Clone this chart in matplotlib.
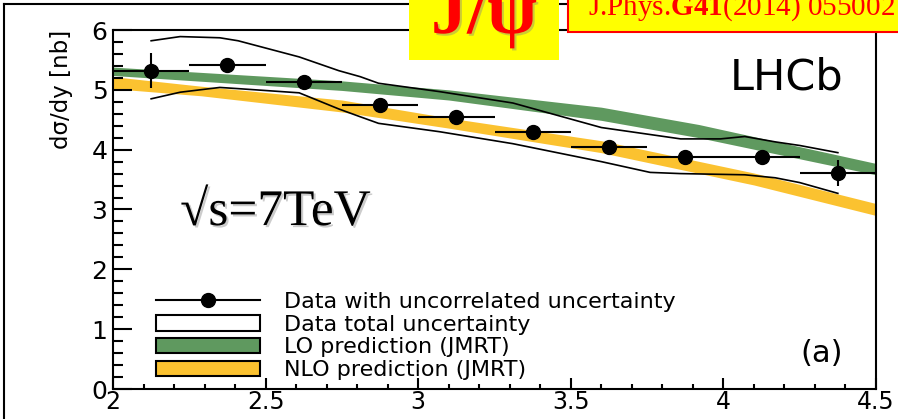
import numpy as np
import matplotlib
matplotlib.use('Agg')
import matplotlib.pyplot as plt
import matplotlib.patheffects as pe
from matplotlib.patches import Patch, Rectangle
from matplotlib.lines import Line2D
from matplotlib.ticker import MultipleLocator

plt.rcParams['font.family'] = ['DejaVu Sans']
plt.rcParams['mathtext.fontset'] = 'custom'
plt.rcParams['mathtext.rm'] = 'Liberation Serif'
plt.rcParams['mathtext.bf'] = 'Liberation Serif:bold'

# data points (LHCb J/psi, 7 TeV)
y_centers = [2.125, 2.375, 2.625, 2.875, 3.125, 3.375, 3.625, 3.875, 4.125, 4.375]
dsig = [5.32, 5.42, 5.13, 4.75, 4.55, 4.30, 4.05, 3.88, 3.88, 3.61]
err_uncorr = [0.29, 0.12, 0.05, 0.05, 0.04, 0.04, 0.04, 0.04, 0.09, 0.22]
bin_half = 0.125

# total uncertainty envelope
tot_hi_x = [2.125, 2.22, 2.35, 2.41, 2.61, 2.74, 2.81, 2.87, 3.07, 3.31, 3.60,
            3.86, 3.99, 4.07, 4.17, 4.25, 4.375]
tot_hi = [5.82, 5.89, 5.87, 5.82, 5.55, 5.32, 5.22, 5.11, 4.97, 4.78, 4.37,
          4.18, 4.18, 4.22, 4.13, 4.07, 3.95]
tot_lo_x = [2.125, 2.22, 2.35, 2.41, 2.61, 2.74, 2.81, 2.87, 3.07, 3.31, 3.60,
            3.76, 3.86, 4.07, 4.17, 4.25, 4.375]
tot_lo = [4.85, 4.96, 5.04, 5.02, 4.95, 4.68, 4.55, 4.44, 4.30, 4.10, 3.80,
          3.62, 3.60, 3.58, 3.53, 3.45, 3.27]

# LO prediction band (JMRT)
lo_x = [2.0, 2.75, 3.1, 3.6, 3.92, 4.5]
lo_low = [5.24, 4.99, 4.83, 4.49, 4.20, 3.58]
lo_high = [5.38, 5.15, 5.00, 4.71, 4.42, 3.77]

# NLO prediction band (JMRT)
nlo_x = [2.0, 2.29, 2.75, 3.1, 3.6, 4.1, 4.5]
nlo_low = [5.02, 4.90, 4.63, 4.36, 3.95, 3.41, 2.90]
nlo_high = [5.22, 5.06, 4.83, 4.53, 4.15, 3.61, 3.10]

labels = ['Data with uncorrelated uncertainty', 'Data total uncertainty',
          'LO prediction (JMRT)', 'NLO prediction (JMRT)']

green = '#5f995f'
orange = '#fbc230'

W, H = 898, 419
fig = plt.figure(figsize=(W / 100, H / 100), dpi=100)
ax = fig.add_axes([113 / W, 30 / H, 763 / W, 359 / H])

ax.fill_between(nlo_x, nlo_low, nlo_high, color=orange, lw=0, zorder=1)
ax.fill_between(lo_x, lo_low, lo_high, color=green, lw=0, zorder=2)
ax.plot(tot_hi_x, tot_hi, color='black', lw=1.2, zorder=3)
ax.plot(tot_lo_x, tot_lo, color='black', lw=1.2, zorder=3)
ax.errorbar(y_centers, dsig, xerr=bin_half, yerr=err_uncorr, fmt='o',
            color='black', ms=10, elinewidth=1.5, capsize=0, zorder=5)

ax.set_xlim(2, 4.5)
ax.set_ylim(0, 6)
ax.xaxis.set_major_locator(MultipleLocator(0.5))
ax.xaxis.set_minor_locator(MultipleLocator(0.1))
ax.yaxis.set_major_locator(MultipleLocator(1))
ax.yaxis.set_minor_locator(MultipleLocator(0.2))
ax.set_xticks([2, 2.5, 3, 3.5, 4, 4.5], ['2', '2.5', '3', '3.5', '4', '4.5'])
ax.tick_params(which='both', direction='in', width=1.5)
ax.tick_params(axis='x', which='major', length=8, pad=1, labelsize=17)
ax.tick_params(axis='x', which='minor', length=3.6)
ax.tick_params(axis='y', which='major', length=14, pad=4, labelsize=18)
ax.tick_params(axis='y', which='minor', length=7)
for s in ax.spines.values():
    s.set_linewidth(1.5)

ax.set_ylabel('dσ/dy [nb]', fontsize=16.5, loc='top')
ax.yaxis.set_label_coords(-0.052, 1)

handles = [Line2D([], [], color='black', marker='o', ms=10, lw=1.5),
           Patch(facecolor='white', edgecolor='black', lw=1.5),
           Patch(facecolor=green, edgecolor='black', lw=1.5),
           Patch(facecolor=orange, edgecolor='black', lw=1.5)]
ax.legend(handles, labels, loc='lower left', bbox_to_anchor=(0.056, 0.025),
          frameon=False, fontsize=16, handlelength=4.7, handleheight=0.68,
          handletextpad=1.05, labelspacing=0.12, borderpad=0, borderaxespad=0)

ax.text(0.957, 0.833, 'LHCb', transform=ax.transAxes, ha='right',
        va='baseline', fontsize=31)
ax.text(0.957, 0.075, '(a)', transform=ax.transAxes, ha='right',
        va='baseline', fontsize=22)

shadow = [pe.SimplePatchShadow(offset=(1.5, -1.5), shadow_rgbFace='gray', alpha=0.4),
          pe.Normal()]
ax.text(2.22, 2.74, '√s=7TeV', fontsize=37,
        family=['Liberation Serif', 'DejaVu Serif'], va='baseline',
        path_effects=shadow)

# outer slide frame
fig.add_artist(Line2D([4 / W, 4 / W], [0, 1 - 4 / H], color='black', lw=1.5,
                      transform=fig.transFigure))
fig.add_artist(Line2D([4 / W, 1], [1 - 4 / H, 1 - 4 / H], color='black', lw=1.5,
                      transform=fig.transFigure))

# J/psi box
fig.add_artist(Rectangle((409 / W, 1 - 60 / H), 150 / W, 62 / H,
                         transform=fig.transFigure, facecolor='#ffff00',
                         edgecolor='none', zorder=10))
fig.text(484 / W, 1 - 33 / H, 'J/ψ', ha='center', va='baseline', fontsize=52,
         fontweight='bold', color='#ff0000', zorder=11,
         family=['Liberation Serif', 'DejaVu Serif'], path_effects=shadow)

# reference box
fig.add_artist(Rectangle((568 / W, 1 - 32 / H), 340 / W, 40 / H,
                         transform=fig.transFigure, facecolor='#ffff00',
                         edgecolor='#ff0000', lw=1.5, zorder=10))
fig.text(588 / W, 1 - 15 / H, r'J.Phys.$\mathbf{G41}$(2014) 055002', ha='left',
         va='baseline', fontsize=21, color='#ff0000', zorder=11,
         family=['Liberation Serif', 'DejaVu Serif'])

fig.savefig('out.png', dpi=100)
